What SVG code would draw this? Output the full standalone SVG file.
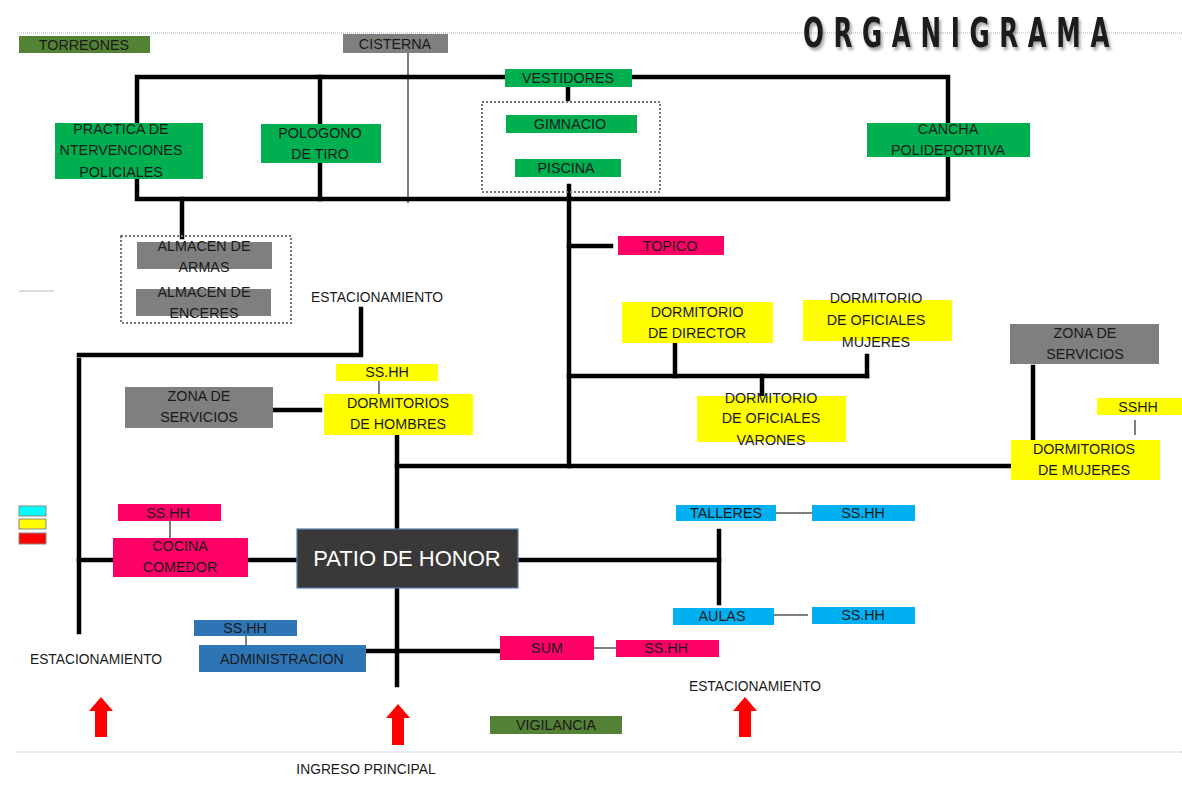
<svg xmlns="http://www.w3.org/2000/svg" width="1182" height="802" viewBox="0 0 1182 802">
<defs>
<style>
.t{font-family:"Liberation Sans",Arial,sans-serif;font-size:14.3px;fill:#1a1a1a;text-anchor:middle}
.s{font-family:"Liberation Sans",Arial,sans-serif;font-size:13.8px;fill:#1a1a1a;text-anchor:middle}
.k{stroke:#000;stroke-width:4.5;fill:none;stroke-linecap:square}
.n{stroke:#555;stroke-width:1.5;fill:none}
.dot{fill:none;stroke:#777;stroke-width:2;stroke-dasharray:2 2}
.g{fill:#00b050}.dg{fill:#548235}.gr{fill:#7f7f7f}.y{fill:#ffff00}.p{fill:#ff0066}.c{fill:#00b0f0}.b{fill:#2e75b6}
.arrow{fill:#ff0000}
</style>
<filter id="sh" x="-10%" y="-30%" width="120%" height="170%">
<feGaussianBlur in="SourceAlpha" stdDeviation="1.6"/>
<feOffset dx="2" dy="3" result="o"/>
<feFlood flood-color="#000" flood-opacity="0.35"/>
<feComposite in2="o" operator="in"/>
<feMerge><feMergeNode/><feMergeNode in="SourceGraphic"/></feMerge>
</filter>
</defs>
<rect width="1182" height="802" fill="#fff"/>
<g id="frame">
<line x1="17" y1="33" x2="1182" y2="33" stroke="#9fb3cc" stroke-width="1.2" stroke-dasharray="1 1"/>
<line x1="17" y1="752" x2="1182" y2="752" stroke="#9fb3cc" stroke-width="1.2" stroke-dasharray="1 1"/>
<line x1="19" y1="291" x2="54" y2="291" stroke="#d0d0d0" stroke-width="1.5"/>
</g>
<g id="title" filter="url(#sh)">
<text transform="translate(803,47) scale(0.6,1)" x="0" y="0" font-family="'DejaVu Sans','Liberation Sans',sans-serif" font-weight="bold" font-size="41" fill="#1a1a1a" letter-spacing="16">ORGANIGRAMA</text>
</g>
<g id="connectors">
<line class="n" x1="408" y1="53" x2="408" y2="203"/>
<polyline class="k" points="137,199 137,77 948,77 948,199 137,199"/>
<line class="k" x1="320" y1="77" x2="320" y2="199"/>
<line class="k" x1="568" y1="87" x2="568" y2="99"/>
<line class="k" x1="569" y1="186" x2="569" y2="466"/>
<line class="k" x1="182" y1="199" x2="182" y2="237"/>
<line class="k" x1="569" y1="246" x2="611" y2="246"/>
<polyline class="k" points="361,309 361,355 79,355"/>
<line class="k" x1="79" y1="360" x2="79" y2="632"/>
<line class="k" x1="79" y1="560" x2="113" y2="560"/>
<line class="k" x1="273" y1="410" x2="320" y2="410"/>
<line class="k" x1="397" y1="437" x2="397" y2="685"/>
<line class="k" x1="397" y1="466" x2="1011" y2="466"/>
<line class="k" x1="569" y1="376" x2="867" y2="376"/>
<line class="k" x1="675" y1="344" x2="675" y2="376"/>
<line class="k" x1="867" y1="356" x2="867" y2="376"/>
<line class="k" x1="762" y1="376" x2="762" y2="396"/>
<line class="k" x1="1033" y1="367" x2="1033" y2="442"/>
<line class="k" x1="248" y1="560" x2="297" y2="560"/>
<line class="k" x1="518" y1="560" x2="719" y2="560"/>
<line class="k" x1="719" y1="531" x2="719" y2="603"/>
<line class="k" x1="366" y1="651" x2="500" y2="651"/>
<line class="n" x1="379" y1="376" x2="379" y2="394"/>
<line class="n" x1="1135" y1="420" x2="1135" y2="435"/>
<line class="n" x1="170" y1="517" x2="170" y2="538"/>
<line class="n" x1="776" y1="513" x2="812" y2="513"/>
<line class="n" x1="774" y1="615" x2="808" y2="615"/>
<line class="n" x1="246" y1="631" x2="246" y2="652"/>
<line class="n" x1="594" y1="648" x2="616" y2="648"/>
</g>
<g id="groups">
<rect class="dot" x="482" y="102" width="178" height="90"/>
<rect class="dot" x="121" y="236" width="170" height="87"/>
</g>
<g id="torreones"><rect class="dg" x="19" y="36" width="131" height="17"/><text class="t" x="84" y="50">TORREONES</text></g>
<g id="cisterna"><rect class="gr" x="343" y="34" width="105" height="19"/><text class="t" x="395" y="49">CISTERNA</text></g>
<g id="vestidores"><rect class="g" x="505" y="69" width="127" height="18"/><text class="t" x="568" y="83">VESTIDORES</text></g>
<g id="gimnacio"><rect class="g" x="506" y="115" width="131" height="18"/><text class="t" x="570" y="129">GIMNACIO</text></g>
<g id="piscina"><rect class="g" x="515" y="159" width="106" height="18"/><text class="t" x="566" y="173">PISCINA</text></g>
<g id="practica"><rect class="g" x="55" y="123" width="148" height="56"/><text class="t" x="121" y="134">PRACTICA DE</text><text class="t" x="121" y="155">NTERVENCIONES</text><text class="t" x="121" y="177">POLICIALES</text></g>
<g id="pologono"><rect class="g" x="261" y="124" width="120" height="39"/><text class="t" x="320" y="138">POLOGONO</text><text class="t" x="320" y="159">DE TIRO</text></g>
<g id="cancha"><rect class="g" x="867" y="123" width="163" height="34"/><text class="t" x="948" y="134">CANCHA</text><text class="t" x="948" y="155">POLIDEPORTIVA</text></g>
<g id="almacen-armas"><rect class="gr" x="137" y="242" width="135" height="27"/><text class="t" x="204" y="251">ALMACEN DE</text><text class="t" x="204" y="272">ARMAS</text></g>
<g id="almacen-enceres"><rect class="gr" x="136" y="289" width="135" height="27"/><text class="t" x="204" y="297">ALMACEN DE</text><text class="t" x="204" y="318">ENCERES</text></g>
<g id="estacionamiento-1"><text class="s" x="377" y="302">ESTACIONAMIENTO</text></g>
<g id="sshh-hombres"><rect class="y" x="336" y="364" width="102" height="17"/><text class="t" x="387" y="377">SS.HH</text></g>
<g id="dorm-hombres"><rect class="y" x="324" y="394" width="149" height="41"/><text class="t" x="398" y="408">DORMITORIOS</text><text class="t" x="398" y="429">DE HOMBRES</text></g>
<g id="zona-servicios-1"><rect class="gr" x="125" y="387" width="148" height="41"/><text class="t" x="199" y="401">ZONA DE</text><text class="t" x="199" y="422">SERVICIOS</text></g>
<g id="topico"><rect class="p" x="618" y="236" width="106" height="19"/><text class="t" x="670" y="251">TOPICO</text></g>
<g id="dorm-director"><rect class="y" x="622" y="302" width="151" height="41"/><text class="t" x="697" y="317">DORMITORIO</text><text class="t" x="697" y="338">DE DIRECTOR</text></g>
<g id="dorm-of-mujeres"><rect class="y" x="803" y="300" width="149" height="41"/><text class="t" x="876" y="303">DORMITORIO</text><text class="t" x="876" y="325">DE OFICIALES</text><text class="t" x="876" y="347">MUJERES</text></g>
<g id="dorm-of-varones"><rect class="y" x="697" y="396" width="149" height="46"/><text class="t" x="771" y="403">DORMITORIO</text><text class="t" x="771" y="423">DE OFICIALES</text><text class="t" x="771" y="445">VARONES</text></g>
<g id="zona-servicios-2"><rect class="gr" x="1010" y="324" width="149" height="40"/><text class="t" x="1085" y="338">ZONA DE</text><text class="t" x="1085" y="359">SERVICIOS</text></g>
<g id="sshh-mujeres"><rect class="y" x="1097" y="398" width="85" height="17"/><text class="t" x="1138" y="412">SSHH</text></g>
<g id="dorm-mujeres"><rect class="y" x="1011" y="440" width="149" height="40"/><text class="t" x="1084" y="454">DORMITORIOS</text><text class="t" x="1084" y="475">DE MUJERES</text></g>
<g id="legend">
<rect x="19" y="506" width="27" height="10" fill="#00ffff" stroke="#888" stroke-width="1"/>
<rect x="19" y="519" width="27" height="10" fill="#ffff00" stroke="#888" stroke-width="1"/>
<rect x="19" y="533" width="27" height="11" fill="#ff0000" stroke="#888" stroke-width="1"/>
</g>
<g id="sshh-cocina"><rect class="p" x="118" y="504" width="103" height="17"/><text class="t" x="168" y="518">SS.HH</text></g>
<g id="cocina"><rect class="p" x="113" y="538" width="135" height="39"/><text class="t" x="180" y="551">COCINA</text><text class="t" x="180" y="572">COMEDOR</text></g>
<g id="patio"><rect x="297" y="529" width="221" height="59" fill="#3a3838" stroke="#5a7ea8" stroke-width="1.2"/><text x="407" y="566" font-family="'Liberation Sans',Arial,sans-serif" font-size="22" fill="#fff" text-anchor="middle">PATIO DE HONOR</text></g>
<g id="talleres"><rect class="c" x="676" y="505" width="100" height="16"/><text class="t" x="726" y="518">TALLERES</text></g>
<g id="sshh-talleres"><rect class="c" x="812" y="505" width="103" height="16"/><text class="t" x="863" y="518">SS.HH</text></g>
<g id="aulas"><rect class="c" x="673" y="608" width="101" height="17"/><text class="t" x="722" y="621">AULAS</text></g>
<g id="sshh-aulas"><rect class="c" x="812" y="607" width="103" height="17"/><text class="t" x="863" y="620">SS.HH</text></g>
<g id="sshh-admin"><rect class="b" x="194" y="620" width="103" height="16"/><text class="t" x="245" y="633">SS.HH</text></g>
<g id="administracion"><rect class="b" x="199" y="645" width="167" height="27"/><text class="t" x="282" y="664">ADMINISTRACION</text></g>
<g id="sum"><rect class="p" x="500" y="636" width="94" height="24"/><text class="t" x="547" y="653">SUM</text></g>
<g id="sshh-sum"><rect class="p" x="616" y="640" width="103" height="17"/><text class="t" x="666" y="653">SS.HH</text></g>
<g id="estacionamiento-2"><text class="s" x="96" y="664">ESTACIONAMIENTO</text></g>
<g id="estacionamiento-3"><text class="s" x="755" y="691">ESTACIONAMIENTO</text></g>
<g id="vigilancia"><rect class="dg" x="490" y="716" width="132" height="18"/><text class="t" x="556" y="730">VIGILANCIA</text></g>
<g id="ingreso"><text class="s" x="366" y="774">INGRESO PRINCIPAL</text></g>
<g id="arrows">
<polygon class="arrow" points="101,697 113,711 107,711 107,737 95,737 95,711 89,711"/>
<polygon class="arrow" points="398,704 410,718 404,718 404,745 392,745 392,718 386,718"/>
<polygon class="arrow" points="745,697 757,711 751,711 751,737 739,737 739,711 733,711"/>
</g>
</svg>
